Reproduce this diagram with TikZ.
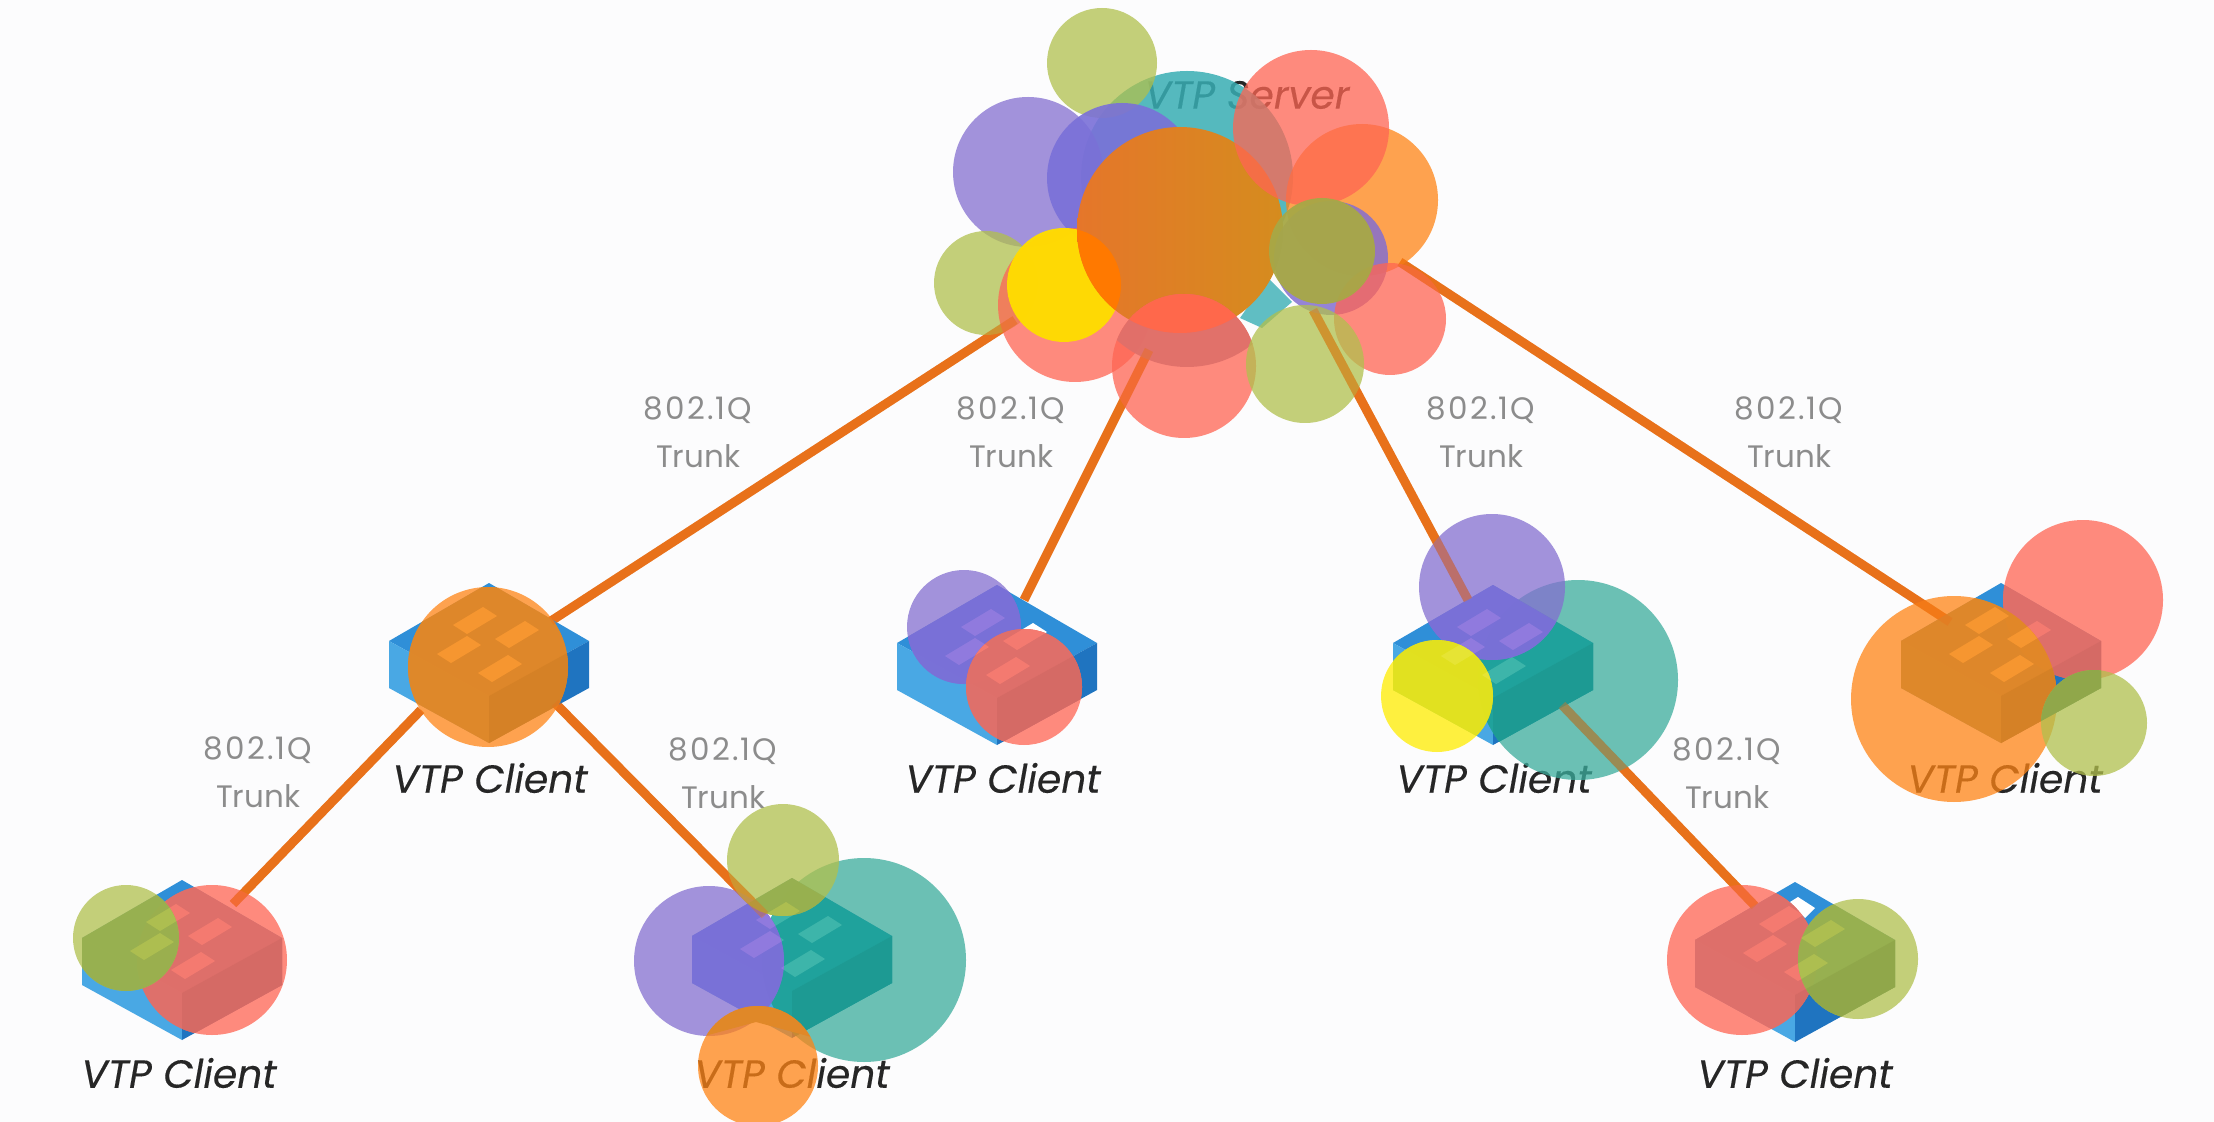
\documentclass[tikz,border=0pt]{standalone}
\usepackage{fontspec}
\setmainfont{Poppins}
\newfontfamily\swfont{Poppins}[FakeBold=0.35]
\definecolor{bgc}{HTML}{FCFCFD}
\definecolor{linec}{HTML}{E8711A}
\definecolor{blueT}{HTML}{2F8FD8}
\definecolor{blueL}{HTML}{49A8E4}
\definecolor{blueR}{HTML}{1F74C0}
\definecolor{salC}{HTML}{FF6553}\definecolor{salD}{HTML}{E0706A}\definecolor{salP}{HTML}{F47A70}
\definecolor{oliC}{HTML}{B1C04D}\definecolor{oliD}{HTML}{98B04E}\definecolor{oliP}{HTML}{ADBE50}
\definecolor{purC}{HTML}{846FD0}\definecolor{purD}{HTML}{7A70D8}\definecolor{purP}{HTML}{907ADE}
\definecolor{teaC}{HTML}{3BAC9C}\definecolor{teaD}{HTML}{1EA29B}\definecolor{teaP}{HTML}{3DB5AA}
\definecolor{oraC}{HTML}{FF8415}\definecolor{oraD}{HTML}{E08828}\definecolor{oraP}{HTML}{F69630}
\definecolor{yelC}{HTML}{FFED00}\definecolor{yelD}{HTML}{E3E21E}\definecolor{yelP}{HTML}{E6E434}
\definecolor{srvT}{HTML}{38AEB4}
\definecolor{srvOL}{HTML}{E5762A}
\definecolor{srvOR}{HTML}{D58C1E}
\tikzset{
  trunkline/.style={draw=linec,line width=4.5pt},
  trunktint/.style={draw=linec,line width=4.5pt,opacity=.4},
  swlabel/.style={font=\swfont\fontsize{19.6}{23}\selectfont\itshape,text=black!85,inner sep=0pt},
  trunklabel/.style={font=\fontsize{15.5}{24}\selectfont,text=black!45,align=center,inner sep=0pt},
  blob/.style={opacity=0.75}
}
\newcommand{\qtag}{{\addfontfeature{LetterSpace=7}802.1Q}}
% hexagon outline: #1 = centre x, #2 = top y
\newcommand{\hexshape}[2]{(#1,#2) -- ++(100,58) -- ++(0,47) -- ++(-100,55) -- ++(-100,-55) -- ++(0,-47) -- cycle}
\newcommand{\swports}[3]{%
  \foreach \dx/\dy in {-14/36,28/50,-30/65,11/84}{%
    \fill[#3] ({#1+\dx-22},{#2+\dy+6}) -- ++(30,-18) -- ++(14,9) -- ++(-30,18) -- cycle;}}
\newcommand{\baseswitch}[2]{%
  \fill[blueT] (#1,#2) -- ++(100,58) -- ++(-100,55) -- ++(-100,-55) -- cycle;
  \fill[blueL] ({#1-100},{#2+58}) -- ++(100,55) -- ++(0,47) -- ++(-100,-55) -- cycle;
  \fill[blueR] ({#1+100},{#2+58}) -- ++(-100,55) -- ++(0,47) -- ++(100,-55) -- cycle;
  \swports{#1}{#2}{white}}
% blob over a switch: cx cy r base-colour prefix swx swT
\newcommand{\ov}[6]{%
  \fill[#4C,blob] (#1,#2) circle[radius=#3];
  \begin{scope}
    \clip (#1,#2) circle[radius=#3];
    \fill[#4D,opacity=.92] \hexshape{#5}{#6};
    \fill[#4D!95!black,opacity=.92] ({#5+100},{#6+58}) -- ++(-100,55) -- ++(0,47) -- ++(100,-55) -- cycle;
    \swports{#5}{#6}{#4P}
  \end{scope}}
\newcommand{\bl}[4]{\fill[#4C,blob] (#1,#2) circle[radius=#3];}
\begin{document}
\begin{tikzpicture}[x=0.5pt,y=-0.5pt]
\useasboundingbox (0,0) rectangle (2214,1122);
\clip (0,0) rectangle (2214,1122);
\fill[bgc] (0,0) rectangle (2214,1122);

% connector ends
\coordinate (sA) at (1015,320); \coordinate (cA) at (551,621);
\coordinate (sB) at (1149,350); \coordinate (cB) at (1024,600);
\coordinate (sC) at (1313,310); \coordinate (cC) at (1468,600);
\coordinate (sD) at (1400,262); \coordinate (cD) at (1950,622);
\coordinate (aF) at (421,710);  \coordinate (cF) at (233,904);
\coordinate (aG) at (555,703);  \coordinate (cG) at (765,915);
\coordinate (cE0) at (1562,705); \coordinate (cE) at (1755,906);
\draw[trunkline] (sA) -- (cA);
\draw[trunkline] (sB) -- (cB);
\draw[trunkline] (sC) -- (cC);
\draw[trunkline] (sD) -- (cD);
\draw[trunkline] (aF) -- (cF);
\draw[trunkline] (aG) -- (cG);
\draw[trunkline] (cE0) -- (cE);

% labels
\node[swlabel] (lS) at (1247,95) {VTP Server};
\node[swlabel] (lA) at (490,778) {VTP Client};
\node[swlabel] (lB) at (1003,778) {VTP Client};
\node[swlabel] (lC) at (1494,778) {VTP Client};
\node[swlabel] (lD) at (2005,778) {VTP Client};
\node[swlabel] (lE) at (1795,1073) {VTP Client};
\node[swlabel] (lF) at (179,1073) {VTP Client};
\node[swlabel] (lG) at (792,1073) {VTP Client};
\node[trunklabel] (t1) at (698,432) {\qtag\\Trunk};
\node[trunklabel] (t2) at (1011,432) {\qtag\\Trunk};
\node[trunklabel] (t3) at (1481,432) {\qtag\\Trunk};
\node[trunklabel] (t4) at (1789,432) {\qtag\\Trunk};
\node[trunklabel] (t5) at (258,772) {\qtag\\Trunk};
\node[trunklabel] (t6) at (723,773) {\qtag\\Trunk};
\node[trunklabel] (t7) at (1727,773) {\qtag\\Trunk};

% switches
\baseswitch{489}{583}
\baseswitch{997}{585}
\baseswitch{1493}{585}
\baseswitch{2001}{583}
\baseswitch{1795}{882}
\fill[white] (1790,902) -- (1798,897) -- (1815,908) -- (1805,918) -- cycle;
\baseswitch{182}{880}
\baseswitch{792}{878}

% client A
\ov{488}{667}{80}{ora}{489}{583}
% client B
\ov{964}{627}{57}{pur}{997}{585}
\ov{1024}{687}{58}{sal}{997}{585}
% client C
\ov{1578}{680}{100}{tea}{1493}{585}
\ov{1492}{587}{73}{pur}{1493}{585}
\ov{1437}{696}{56}{yel}{1493}{585}
% client D
\ov{2083}{600}{80}{sal}{2001}{583}
\ov{1954}{699}{103}{ora}{2001}{583}
\ov{2094}{723}{53}{oli}{2001}{583}
% client E
\ov{1742}{960}{75}{sal}{1795}{882}
\ov{1858}{959}{60}{oli}{1795}{882}
% client F
\ov{212}{960}{75}{sal}{182}{880}
\ov{126}{938}{53}{oli}{182}{880}
% client G
\ov{864}{960}{102}{tea}{792}{878}
\ov{709}{961}{75}{pur}{792}{878}
\ov{783}{860}{56}{oli}{792}{878}
\bl{758}{1066}{60}{ora}
\begin{scope}
  \clip (758,1066) circle[radius=60];
  \fill[oraD] (690,980) -- (830,980) -- (830,1042) -- (756,1022) -- (690,1040) -- cycle;
\end{scope}

% server cluster
\fill[srvT,opacity=.85] (1187,177) circle[radius=106];
\fill[srvT!80!white] (1240,318) -- (1268,278) -- (1292,302) -- (1262,328) -- cycle;
\bl{1102}{63}{55}{oli}
\bl{1028}{172}{75}{pur}
\fill[purD,opacity=.9] (1122,178) circle[radius=75];
\bl{986}{283}{52}{oli}
\bl{1075}{305}{77}{sal}
\fill[yelC!85!orange,opacity=.96] (1064,285) circle[radius=57];
\shade[left color=srvOL,right color=srvOR] (1180,230) circle[radius=103];
\begin{scope}
  \clip (1064,285) circle[radius=57];
  \fill[orange!95!red] (1180,230) circle[radius=103];
\end{scope}
\bl{1362}{200}{76}{ora}
\bl{1311}{128}{78}{sal}
\fill[purC,opacity=.85] (1331,258) circle[radius=57];
\bl{1390}{319}{56}{sal}
\bl{1184}{366}{72}{sal}
\begin{scope}
  \clip (1184,366) circle[radius=72];
  \fill[salD,opacity=.95] (1187,262) circle[radius=105];
  \clip (1180,230) circle[radius=103];
  \fill[salC!90!orange] (1100,280) rectangle (1270,345);
\end{scope}
\bl{1305}{364}{59}{oli}
\fill[oliD!80!oraD,opacity=.95] (1322,251) circle[radius=53];

% the trunk lines showing through the translucent discs
\draw[trunktint] (sA) -- (cA);
\draw[trunktint] (sB) -- (cB);
\draw[trunktint] (sC) -- (cC);
\draw[trunktint] (sD) -- (cD);
\draw[trunktint] (aF) -- (cF);
\draw[trunktint] (aG) -- (cG);
\draw[trunktint] (cE0) -- (cE);
\end{tikzpicture}
\end{document}
